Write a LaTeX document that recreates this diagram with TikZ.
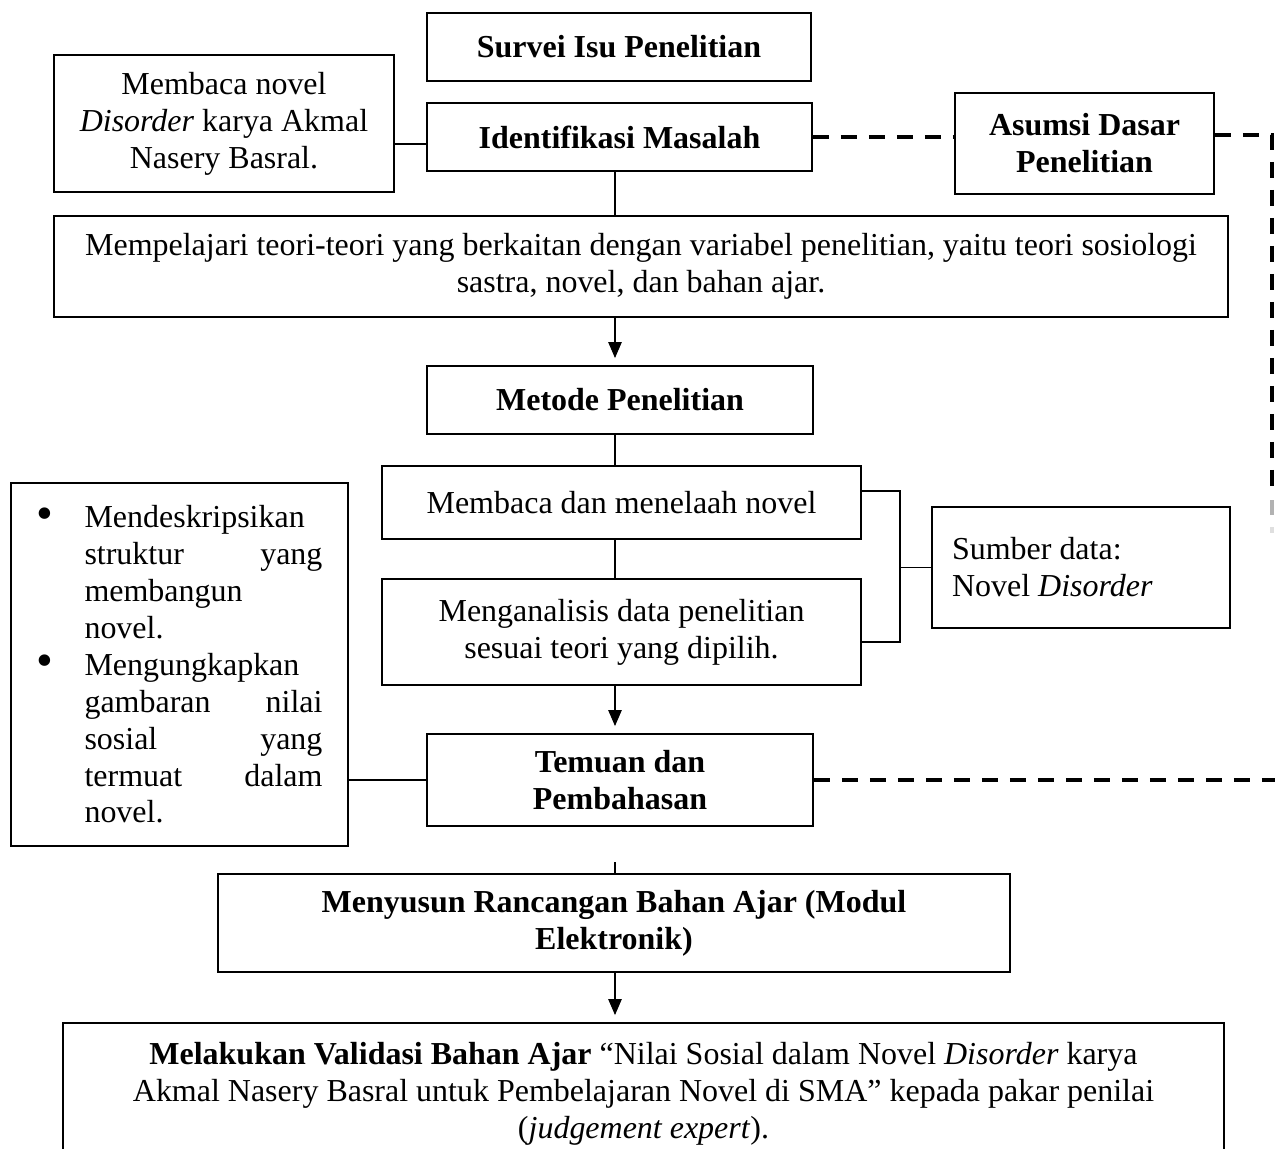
\documentclass[tikz,border=0pt]{standalone}
\usepackage{fontspec}
\usepackage{graphicx}
\setmainfont{Liberation Serif}
\usetikzlibrary{arrows.meta,calc}
\newcommand{\bigbul}{\raisebox{-0.05em}{\scalebox{1.5}{\textbullet}}}
\newcommand{\blt}[1]{\makebox[0.96cm][l]{\bigbul}\makebox[4.76cm][l]{#1}}
\newcommand{\nlt}[1]{\makebox[0.96cm][l]{}\makebox[4.76cm][l]{#1}}
\begin{document}
\begin{tikzpicture}[x=0.02cm,y=-0.02cm,
 every node/.style={font=\fontsize{18.2pt}{21pt}\selectfont},
 box/.style={draw, line width=1.1pt, inner sep=0pt, align=center},
 conn/.style={line width=0.6pt},
 arr/.style={line width=0.6pt, -{Triangle[length=0.32cm,width=0.27cm]}, shorten >=0.14cm},
 dsh/.style={line width=2.2pt, dash pattern=on 0.32cm off 0.24cm}]
\useasboundingbox (0,0) rectangle (1275,1149);

\node[box, minimum width=7.68cm, minimum height=1.36cm] (survei) at (619,47) {\textbf{Survei Isu Penelitian}};
\node[box, minimum width=6.80cm, minimum height=2.74cm] (mnovel) at (224,123.5) {Membaca novel\\\textit{Disorder} karya Akmal\\Nasery Basral.};
\node[box, minimum width=7.70cm, minimum height=1.36cm] (ident) at (619.5,137) {\textbf{Identifikasi Masalah}};
\node[box, minimum width=5.18cm, minimum height=2.02cm] (asumsi) at (1084.5,143.5) {\textbf{Asumsi Dasar}\\\textbf{Penelitian}};
\node[box, minimum width=23.48cm, minimum height=2.02cm] (teori) at (641,266.5) {Mempelajari teori-teori yang berkaitan dengan variabel penelitian, yaitu teori sosiologi\\sastra, novel, dan bahan ajar.};
\node[box, minimum width=7.72cm, minimum height=1.36cm] (metode) at (620,400) {\textbf{Metode Penelitian}};
\node[box, minimum width=9.58cm, minimum height=1.46cm] (baca) at (621.5,502.5) {Membaca dan menelaah novel};
\node[box, minimum width=9.58cm, minimum height=2.12cm] (analisis) at (621.5,632) {Menganalisis data penelitian\\sesuai teori yang dipilih.};
\node[box, minimum width=5.96cm, minimum height=2.42cm, align=left] (sumber) at (1081,567.5) {\makebox[5.16cm][l]{Sumber data:}\\\makebox[5.16cm][l]{Novel \textit{Disorder}}};
\node[box, minimum width=6.74cm, minimum height=7.26cm, align=left] (bullets) at (179.5,664.5) {\blt{Mendeskripsikan}\\\nlt{struktur\hfill yang}\\\nlt{membangun}\\\nlt{novel.}\\\blt{Mengungkapkan}\\\nlt{gambaran\hfill nilai}\\\nlt{sosial\hfill yang}\\\nlt{termuat\hfill dalam}\\\nlt{novel.}};
\node[box, minimum width=7.72cm, minimum height=1.84cm] (temuan) at (620,780) {\textbf{Temuan dan}\\\textbf{Pembahasan}};
\node[box, minimum width=15.84cm, minimum height=1.96cm] (menyusun) at (614,923) {\textbf{Menyusun Rancangan Bahan Ajar (Modul}\\\textbf{Elektronik)}};
\node[box, minimum width=23.22cm, minimum height=2.84cm] (melakukan) at (643.5,1094) {\textbf{Melakukan Validasi Bahan Ajar} “Nilai Sosial dalam Novel \textit{Disorder} karya\\Akmal Nasery Basral untuk Pembelajaran Novel di SMA” kepada pakar penilai\\(\textit{judgement expert}).};

% helper coordinates
\coordinate (spx) at (615,0);
\coordinate (bx) at (900,0);
\coordinate (dEnd) at (1272,490);
\coordinate (rEdge) at (1285,0);
\coordinate (tick) at (615,862);

\draw[conn] ([yshift=-0.14cm]ident.west) -- ([yshift=-0.14cm]ident.west -| mnovel.east);
\draw[conn] (ident.south -| spx) -- (teori.north -| spx);
\draw[arr] (teori.south -| spx) -- (metode.north -| spx);
\draw[conn] (metode.south -| spx) -- (baca.north -| spx);
\draw[conn] (baca.south -| spx) -- (analisis.north -| spx);
\draw[arr] (analisis.south -| spx) -- (temuan.north -| spx);
\draw[conn] (tick) -- (menyusun.north -| spx);
\draw[arr] (menyusun.south -| spx) -- (melakukan.north -| spx);

\draw[conn] ([yshift=0.23cm]baca.east) -| ([yshift=-0.2cm]analisis.east -| bx) -- ([yshift=-0.2cm]analisis.east);
\draw[conn] (sumber.west) -- (sumber.west -| bx);
\draw[conn] (temuan.west) -- (temuan.west -| bullets.east);

\draw[dsh] (ident.east) -- (ident.east -| asumsi.west);
\draw[dsh] ([yshift=0.17cm]asumsi.east) -| (dEnd);
\draw[line width=2.2pt, gray!60] (dEnd) ++(0,10) -- ++(0,15);
\draw[line width=2.2pt, gray!25] (dEnd) ++(0,37) -- ++(0,6);
\draw[dsh] (temuan.east) -- (temuan.east -| rEdge);
\end{tikzpicture}
\end{document}
